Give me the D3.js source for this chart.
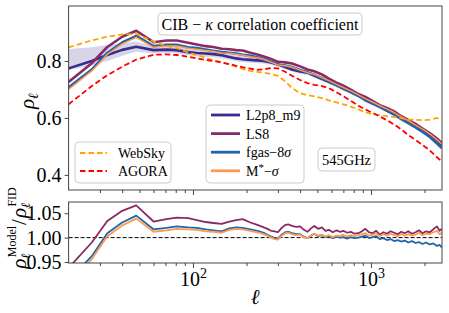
<!DOCTYPE html>
<html><head><meta charset="utf-8">
<script src="https://cdn.jsdelivr.net/npm/d3@7"></script>
<style>
body{margin:0;background:#fff}
svg{display:block}
</style>
</head><body>
<svg id="c" width="449" height="313"></svg>
<script>
// ---------------- data ----------------
const ell = [20,27,33,40,48,60,71,81,94,105,118,130,145,160,175,190,210,230,250,275,300,330,360,400,440,480,530,580,640,700,770,850,930,1020,1120,1230,1350,1480,1620,1780,1950,2140,2350,2500];

const rhoL2p8 = [0.774,0.800,0.821,0.839,0.850,0.838,0.840,0.838,0.831,0.828,0.826,0.824,0.820,0.814,0.809,0.806,0.804,0.802,0.800,0.795,0.788,0.779,0.770,0.763,0.759,0.749,0.737,0.727,0.715,0.703,0.692,0.678,0.663,0.651,0.640,0.628,0.616,0.600,0.587,0.572,0.557,0.539,0.517,0.504];
const rhoLS8 = [0.726,0.792,0.849,0.885,0.906,0.866,0.872,0.872,0.864,0.858,0.852,0.849,0.843,0.841,0.838,0.837,0.829,0.823,0.816,0.807,0.797,0.795,0.791,0.781,0.770,0.764,0.753,0.738,0.724,0.713,0.699,0.684,0.674,0.660,0.645,0.635,0.623,0.606,0.593,0.579,0.563,0.547,0.528,0.512];
const rhoFgas = [0.707,0.770,0.828,0.865,0.888,0.852,0.857,0.857,0.848,0.845,0.840,0.836,0.831,0.829,0.826,0.822,0.818,0.813,0.806,0.797,0.787,0.784,0.779,0.768,0.760,0.752,0.741,0.729,0.716,0.704,0.691,0.678,0.665,0.652,0.639,0.625,0.612,0.596,0.582,0.567,0.551,0.533,0.510,0.494];
const rhoMstar = [0.700,0.765,0.823,0.860,0.883,0.848,0.853,0.853,0.845,0.841,0.837,0.834,0.828,0.827,0.824,0.820,0.815,0.811,0.805,0.796,0.786,0.783,0.778,0.768,0.759,0.753,0.742,0.731,0.718,0.707,0.695,0.681,0.668,0.656,0.643,0.632,0.619,0.604,0.591,0.575,0.561,0.544,0.523,0.508];
const rhoWebSky = [0.848,0.872,0.885,0.893,0.895,0.868,0.853,0.845,0.830,0.821,0.811,0.803,0.795,0.788,0.780,0.772,0.765,0.762,0.759,0.754,0.748,0.728,0.705,0.687,0.680,0.676,0.670,0.662,0.655,0.648,0.640,0.630,0.620,0.613,0.610,0.606,0.603,0.599,0.595,0.593,0.592,0.594,0.600,0.593];
const rhoAgora = [0.648,0.712,0.750,0.780,0.805,0.822,0.823,0.821,0.815,0.809,0.804,0.800,0.795,0.789,0.783,0.778,0.773,0.769,0.771,0.775,0.774,0.762,0.748,0.733,0.722,0.716,0.712,0.705,0.690,0.676,0.660,0.643,0.630,0.618,0.605,0.592,0.577,0.560,0.540,0.523,0.505,0.486,0.462,0.447];
const bandLow = [0.768,0.784,0.800,0.818,0.832,0.826,0.828,0.826,0.820,0.817,0.815,0.813,0.809,0.804,0.799,0.796,0.794,0.792,0.790,0.787,0.780,0.771,0.762,0.755,0.751,0.741,0.729,0.719,0.707,0.695,0.684,0.670,0.655,0.643,0.632,0.620,0.608,0.592,0.579,0.564,0.549,0.531,0.509,0.496];
const bandHigh = [0.842,0.848,0.856,0.862,0.868,0.852,0.853,0.851,0.845,0.842,0.840,0.838,0.833,0.829,0.826,0.822,0.818,0.814,0.808,0.802,0.795,0.787,0.779,0.771,0.766,0.756,0.744,0.734,0.722,0.710,0.699,0.685,0.670,0.658,0.647,0.635,0.623,0.607,0.594,0.579,0.564,0.546,0.524,0.511];

// ratio panel (finer multipole sampling)
const ellRatio = [20,27,33,40,48,60,71,81,94,105,118,130,145,160,175,190,210,230,250,262,275,288,300,315,330,345,360,380,400,420,440,460,480,505,530,555,580,610,640,670,700,735,770,810,850,890,930,975,1020,1070,1120,1175,1230,1290,1350,1415,1480,1550,1620,1700,1780,1860,1950,2040,2140,2240,2350,2430,2500];
const ratioLS8 = [0.938,0.990,1.034,1.055,1.066,1.033,1.038,1.041,1.040,1.036,1.032,1.030,1.028,1.033,1.036,1.038,1.031,1.026,1.021,1.018,1.014,1.013,1.011,1.020,1.026,1.027,1.024,1.022,1.023,1.016,1.012,1.019,1.024,1.018,1.021,1.014,1.016,1.011,1.015,1.012,1.014,1.010,1.012,1.008,1.009,1.013,1.018,1.011,1.009,1.014,1.006,1.011,1.008,1.013,1.010,1.007,1.012,1.009,1.013,1.008,1.011,1.015,1.009,1.013,1.011,1.017,1.023,1.014,1.018];
const ratioFgas = [0.913,0.962,1.009,1.031,1.045,1.017,1.020,1.023,1.021,1.020,1.017,1.015,1.013,1.019,1.021,1.020,1.017,1.014,1.010,1.006,1.002,0.999,0.998,1.006,1.011,1.012,1.009,1.007,1.007,1.002,0.999,1.004,1.008,1.003,1.005,1.001,1.003,0.999,1.002,1.000,1.001,0.998,1.001,0.999,1.000,1.002,1.004,0.999,1.001,1.003,0.997,0.999,0.995,0.997,0.993,0.995,0.992,0.994,0.990,0.993,0.989,0.991,0.987,0.990,0.986,0.988,0.983,0.985,0.980];
const ratioMstar = [0.905,0.956,1.003,1.025,1.039,1.012,1.015,1.018,1.017,1.016,1.013,1.012,1.010,1.016,1.018,1.017,1.014,1.011,1.007,1.004,1.000,0.997,0.996,1.004,1.009,1.010,1.007,1.005,1.006,1.001,0.999,1.004,1.008,1.004,1.006,1.002,1.005,1.001,1.004,1.003,1.006,1.002,1.005,1.003,1.005,1.007,1.009,1.004,1.006,1.009,1.003,1.007,1.004,1.008,1.005,1.003,1.008,1.004,1.007,1.004,1.006,1.010,1.005,1.008,1.007,1.011,1.014,1.007,1.010];

const topTicks = [0.4,0.6,0.8];
const botTicks = [0.95,1.00,1.05];
const xMajor = [100,1000];
const xMinor = [30,40,50,60,70,80,90,200,300,400,500,600,700,800,900,2000];

const colL2p8 = "#3b2b8e", colLS8 = "#8a2a65", colFgas = "#1f65ad", colMstar = "#fd9a4f";
const colWeb = "#ffa500", colAgora = "#ff0000";

// ---------------- layout ----------------
const svg = d3.select('#c');
const X0 = 68.6, X1 = 442, T0 = 6, T1 = 190, B0 = 202, B1 = 263;
const x = d3.scaleLog().domain([20, 2508]).range([X0, X1]);
const yT = d3.scaleLinear().domain([0.347, 0.993]).range([T1, T0]);
const yB = d3.scaleLinear().domain([0.948, 1.073]).range([B1, B0]);

const defs = svg.append('defs');
defs.append('clipPath').attr('id','clipT').append('rect').attr('x',X0).attr('y',T0).attr('width',X1-X0).attr('height',T1-T0);
defs.append('clipPath').attr('id','clipB').append('rect').attr('x',X0).attr('y',B0).attr('width',X1-X0).attr('height',B1-B0);

// ---------------- top panel ----------------
const gT = svg.append('g').attr('clip-path','url(#clipT)');
const idx = d3.range(ell.length);
const area = d3.area().x(i=>x(ell[i])).y0(i=>yT(bandLow[i])).y1(i=>yT(bandHigh[i]));
gT.append('path').datum(idx).attr('d',area).attr('fill',colL2p8).attr('fill-opacity',0.2);

function lineT(arr){ return d3.line().x((d,i)=>x(ell[i])).y(d=>yT(d))(arr); }
function lineB(arr){ return d3.line().x((d,i)=>x(ellRatio[i])).y(d=>yB(d))(arr); }

gT.append('path').attr('d',lineT(rhoL2p8)).attr('fill','none').attr('stroke',colL2p8).attr('stroke-width',2.6).attr('stroke-linejoin','round');
gT.append('path').attr('d',lineT(rhoLS8)).attr('fill','none').attr('stroke',colLS8).attr('stroke-width',2.6).attr('stroke-linejoin','round');
gT.append('path').attr('d',lineT(rhoFgas)).attr('fill','none').attr('stroke',colFgas).attr('stroke-width',2.6).attr('stroke-linejoin','round');
gT.append('path').attr('d',lineT(rhoMstar)).attr('fill','none').attr('stroke',colMstar).attr('stroke-width',1.5).attr('stroke-linejoin','round');
gT.append('path').attr('d',lineT(rhoWebSky)).attr('fill','none').attr('stroke',colWeb).attr('stroke-width',1.8).attr('stroke-dasharray','5.5,3');
gT.append('path').attr('d',lineT(rhoAgora)).attr('fill','none').attr('stroke',colAgora).attr('stroke-width',1.8).attr('stroke-dasharray','5.5,3');

// ---------------- bottom panel ----------------
const gB = svg.append('g').attr('clip-path','url(#clipB)');
gB.append('line').attr('x1',X0).attr('x2',X1).attr('y1',yB(1)).attr('y2',yB(1)).attr('stroke','#000').attr('stroke-width',1).attr('stroke-dasharray','4,2');
gB.append('path').attr('d',lineB(ratioLS8)).attr('fill','none').attr('stroke',colLS8).attr('stroke-width',1.8).attr('stroke-linejoin','round');
gB.append('path').attr('d',lineB(ratioFgas)).attr('fill','none').attr('stroke',colFgas).attr('stroke-width',1.8).attr('stroke-linejoin','round');
gB.append('path').attr('d',lineB(ratioMstar)).attr('fill','none').attr('stroke',colMstar).attr('stroke-width',1.8).attr('stroke-linejoin','round');

// ---------------- frames & axes ----------------
const frameCol = '#444';
svg.append('rect').attr('x',X0).attr('y',T0).attr('width',X1-X0).attr('height',T1-T0).attr('fill','none').attr('stroke',frameCol).attr('stroke-width',1);
svg.append('rect').attr('x',X0).attr('y',B0).attr('width',X1-X0).attr('height',B1-B0).attr('fill','none').attr('stroke',frameCol).attr('stroke-width',1);

function styleAxis(g, fs){
  g.select('.domain').remove();
  g.selectAll('line').attr('stroke',frameCol);
  g.selectAll('text').attr('font-size',fs).attr('fill','#000');
}
svg.append('g').attr('transform',`translate(${X0},0)`)
  .call(d3.axisLeft(yT).tickValues(topTicks).tickSize(4).tickPadding(3).tickFormat(d3.format('.1f')))
  .call(g=>styleAxis(g,20));
svg.append('g').attr('transform',`translate(${X0},0)`)
  .call(d3.axisLeft(yB).tickValues(botTicks).tickSize(4).tickPadding(3).tickFormat(d3.format('.2f')))
  .call(g=>styleAxis(g,20));
svg.append('g').attr('transform',`translate(0,${T1})`)
  .call(d3.axisBottom(x).tickValues(xMajor).tickSize(5).tickFormat(''))
  .call(g=>styleAxis(g,20));
svg.append('g').attr('transform',`translate(0,${T1})`)
  .call(d3.axisBottom(x).tickValues(xMinor).tickSize(3).tickFormat(''))
  .call(g=>styleAxis(g,20));
svg.append('g').attr('transform',`translate(0,${B1})`)
  .call(d3.axisBottom(x).tickValues(xMinor).tickSize(3).tickFormat(''))
  .call(g=>styleAxis(g,20));
svg.append('g').attr('transform',`translate(0,${B1})`)
  .call(d3.axisBottom(x).tickValues(xMajor).tickSize(5).tickPadding(4).tickFormat(''))
  .call(g=>styleAxis(g,20))
  .call(g=>g.selectAll('.tick text').each(function(d){
    const t = d3.select(this);
    t.text(null).attr('dy','0.71em');
    t.append('tspan').text('10');
    t.append('tspan').attr('dy',-8).attr('font-size',14).text(String(Math.round(Math.log10(d))));
  }));

// axis labels
svg.append('text').attr('transform','translate(34,101) rotate(-90)').attr('text-anchor','middle')
  .call(t=>{
    t.append('tspan').attr('font-size',21).attr('font-style','italic').text('ρ');
    t.append('tspan').attr('font-size',14).attr('font-style','italic').attr('dy',4).text('ℓ');
  });
svg.append('text').attr('transform','translate(26,228) rotate(-90)').attr('text-anchor','middle')
  .call(t=>{
    t.append('tspan').attr('font-size',21).attr('font-style','italic').text('ρ');
    t.append('tspan').attr('font-size',13).attr('font-style','italic').attr('dy',4).text('ℓ');
    t.append('tspan').attr('font-size',12).attr('dx',-4).attr('dy',-14).text('Model');
    t.append('tspan').attr('font-size',21).attr('dx',1).attr('dy',10).text('/');
    t.append('tspan').attr('font-size',21).attr('font-style','italic').attr('dx',1).text('ρ');
    t.append('tspan').attr('font-size',13).attr('font-style','italic').attr('dy',4).text('ℓ');
    t.append('tspan').attr('font-size',12).attr('dx',-4).attr('dy',-14).text('FID');
  });
svg.append('text').attr('x',255).attr('y',304).attr('text-anchor','middle').attr('font-size',21).attr('font-style','italic').text('ℓ');

// ---------------- title box ----------------
svg.append('rect').attr('x',158).attr('y',13).attr('width',204).attr('height',22).attr('rx',4)
  .attr('fill','#fff').attr('fill-opacity',0.85).attr('stroke','#cccccc').attr('stroke-width',1);
svg.append('text').attr('x',260).attr('y',30).attr('text-anchor','middle').attr('font-size',16)
  .call(t=>{
    t.append('tspan').text('CIB − ');
    t.append('tspan').attr('font-style','italic').text('κ');
    t.append('tspan').text(' correlation coefficient');
  });

// ---------------- legend 1 (sims) ----------------
const leg1 = [{label:'WebSky', col:colWeb},{label:'AGORA', col:colAgora}];
svg.append('rect').attr('x',75).attr('y',142).attr('width',96).attr('height',41).attr('rx',4)
  .attr('fill','#fff').attr('fill-opacity',0.8).attr('stroke','#cccccc').attr('stroke-width',1);
leg1.forEach((d,i)=>{
  const yy = 153 + i*18;
  svg.append('line').attr('x1',80).attr('x2',107).attr('y1',yy).attr('y2',yy).attr('stroke',d.col).attr('stroke-width',1.8).attr('stroke-dasharray','5.5,3');
  svg.append('text').attr('x',118).attr('y',yy+5).attr('font-size',14).text(d.label);
});

// ---------------- legend 2 (models) ----------------
svg.append('rect').attr('x',206).attr('y',105).attr('width',98).attr('height',78).attr('rx',4)
  .attr('fill','#fff').attr('fill-opacity',0.8).attr('stroke','#cccccc').attr('stroke-width',1);
const leg2 = [{col:colL2p8},{col:colLS8},{col:colFgas},{col:colMstar}];
leg2.forEach((d,i)=>{
  const yy = 115 + i*18.6;
  svg.append('line').attr('x1',211).attr('x2',240).attr('y1',yy).attr('y2',yy).attr('stroke',d.col).attr('stroke-width',2.8);
});
const lx = 246;
svg.append('text').attr('x',lx).attr('y',115+5).attr('font-size',14).text('L2p8_m9');
svg.append('text').attr('x',lx).attr('y',133.6+5).attr('font-size',14).text('LS8');
svg.append('text').attr('x',lx).attr('y',152.2+5).attr('font-size',14)
  .call(t=>{ t.append('tspan').text('fgas−8'); t.append('tspan').attr('font-style','italic').text('σ'); });
svg.append('text').attr('x',lx).attr('y',170.8+5).attr('font-size',14)
  .call(t=>{ t.append('tspan').text('M'); t.append('tspan').attr('dy',-5).attr('font-size',11).text('*');
             t.append('tspan').attr('dy',5).text('−'); t.append('tspan').attr('font-style','italic').text('σ'); });

// ---------------- 545GHz box ----------------
svg.append('rect').attr('x',318).attr('y',148).attr('width',57).attr('height',23).attr('rx',4)
  .attr('fill','#fff').attr('fill-opacity',0.85).attr('stroke','#cccccc').attr('stroke-width',1);
svg.append('text').attr('x',346.5).attr('y',165).attr('text-anchor','middle').attr('font-size',14.5).text('545GHz');

svg.selectAll('text').style('font-family','"Liberation Serif"').style('fill','#000');
</script>
</body></html>
